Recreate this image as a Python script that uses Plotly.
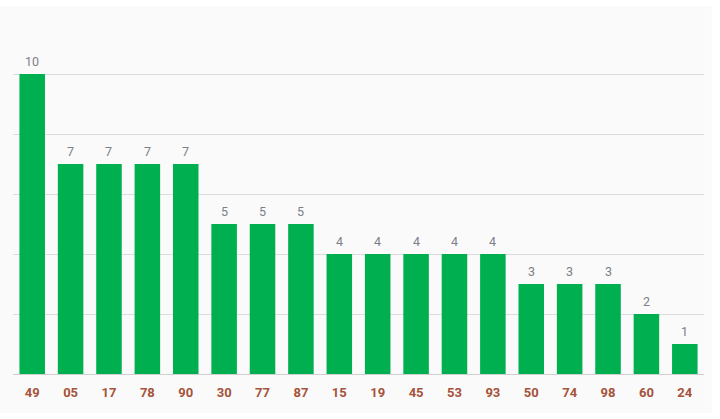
import plotly.graph_objects as go

categories = ["49", "05", "17", "78", "90", "30", "77", "87", "15", "19",
              "45", "53", "93", "50", "74", "98", "60", "24"]
values = [10, 7, 7, 7, 7, 5, 5, 5, 4, 4, 4, 4, 4, 3, 3, 3, 2, 1]
y_ticks = [0, 2, 4, 6, 8, 10, 12]

fig = go.Figure()
fig.add_trace(go.Bar(
    x=categories, y=values,
    marker=dict(color="#00b050", line=dict(width=0)),
    hoverinfo="x+y",
))

for i, v in enumerate(values):
    fig.add_annotation(x=i, y=v, text=str(v), showarrow=False,
                       yanchor="bottom", yshift=3,
                       font=dict(family="Roboto", size=12.5, color="#7a8088"))

fig.add_shape(type="rect", xref="paper", yref="paper",
              x0=-0.0195, x1=1.0113, y0=-0.108, y1=1.022,
              fillcolor="#fafafa", line=dict(width=0), layer="below")

fig.update_layout(
    width=720, height=419,
    margin=dict(l=13, r=16, t=14, b=45),
    paper_bgcolor="white",
    plot_bgcolor="#fafafa",
    bargap=0.335,
    showlegend=False,
    xaxis=dict(type="category", categoryorder="array", categoryarray=categories,
               range=[-0.5, len(categories) - 0.5],
               showgrid=False, ticks="",
               tickfont=dict(family="Roboto", size=13, color="#a5533a", weight="bold"),
               showline=True, linecolor="#cfcfcf", linewidth=1,
               ticklabelstandoff=6),
    yaxis=dict(range=[0, 12], tickvals=y_ticks, showticklabels=False,
               showgrid=True, gridcolor="#dcdcdc", gridwidth=1,
               zeroline=False, fixedrange=True),
)

fig.write_html("out.html")
